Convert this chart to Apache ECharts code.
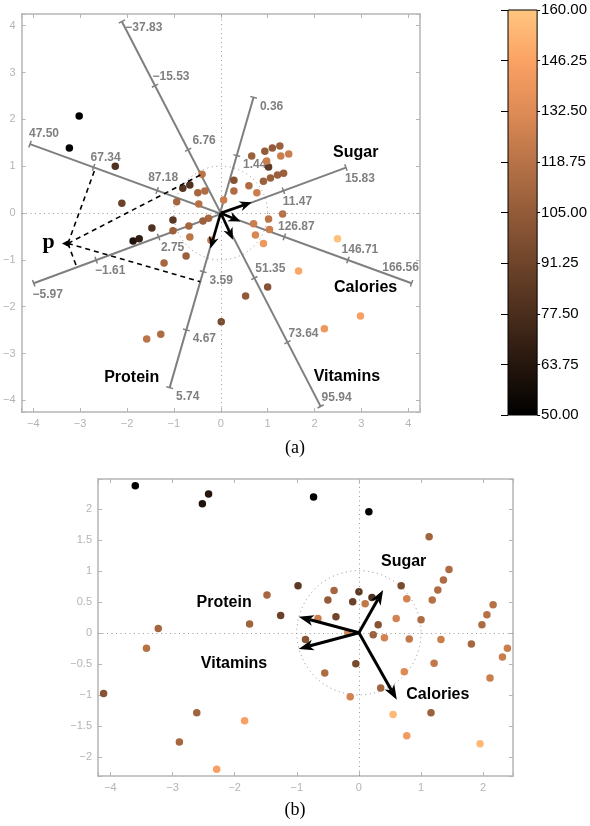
<!DOCTYPE html>
<html><head><meta charset="utf-8">
<script src="https://cdn.jsdelivr.net/npm/echarts@6/dist/echarts.min.js"></script>
<style>html,body{margin:0;padding:0;background:#fff}#c{width:590px;height:826px}</style>
</head><body><div id="c"></div><script>
// ---------- data ----------
// panel (a): [x, y, colour value]
const pointsA = [
 [-3.02, 2.07, 50], [-3.23, 1.39, 52], [-2.25, 1.00, 80], [-2.11, 0.21, 90],
 [-0.81, 0.53, 82], [-0.66, 0.60, 80], [-0.40, 0.83, 120], [-0.49, 0.43, 112],
 [-0.34, 0.47, 116], [-0.94, 0.24, 112], [-0.47, 0.19, 118], [-1.02, -0.15, 84],
 [-1.47, -0.32, 80], [-1.02, -0.38, 108], [-1.87, -0.60, 62], [-1.74, -0.55, 68],
 [-0.68, -0.28, 112], [-0.66, -0.51, 120], [-0.74, -0.92, 108], [-1.21, -1.07, 112],
 [-0.26, -0.11, 112], [-0.38, -0.17, 108], [-0.21, -0.58, 125], [0.06, 0.28, 125],
 [0.28, 0.70, 100], [0.28, 0.47, 115], [0.66, 1.22, 108], [0.60, 0.58, 115],
 [0.77, 0.43, 125], [0.94, 1.32, 105], [1.10, 1.39, 105], [1.26, 1.43, 108],
 [1.28, 1.22, 125], [1.45, 1.26, 125], [1.02, 0.98, 85], [0.98, 1.11, 125],
 [0.91, 0.68, 108], [1.06, 0.75, 108], [1.21, 0.81, 108], [1.34, 0.85, 108],
 [1.32, -0.02, 118], [1.02, -0.13, 120], [0.70, -0.23, 125], [1.04, -0.35, 125],
 [0.74, -0.47, 130], [0.91, -0.65, 140], [2.49, -0.55, 158], [1.66, -1.24, 148],
 [1.00, -1.58, 100], [0.53, -1.77, 105], [0.01, -2.32, 95], [2.98, -2.20, 145],
 [2.21, -2.47, 140], [-1.58, -2.69, 120], [-1.28, -2.59, 115]
];
// panel (b): [x, y, colour value]
const pointsB = [
 [-3.60, 2.37, 50], [-2.52, 2.08, 62], [-2.42, 2.24, 64], [-0.73, 2.19, 52], [0.16, 1.95, 52],
 [-0.98, 0.76, 85], [-1.48, 0.61, 112], [-1.26, 0.28, 90], [-1.76, 0.14, 110], [-3.23, 0.07, 112],
 [-3.42, -0.25, 118], [-0.86, -0.11, 100], [-0.40, 0.68, 112], [-0.50, 0.53, 105], [-0.37, 0.26, 92],
 [-0.10, 0.50, 90], [0.00, 0.66, 85], [1.13, 1.55, 110], [1.45, 1.02, 115], [1.36, 0.85, 115],
 [1.27, 0.69, 115], [1.18, 0.53, 118], [0.68, 0.76, 95], [0.77, 0.55, 128], [0.21, 0.57, 80],
 [0.10, 0.47, 122], [0.60, 0.23, 128], [1.00, 0.21, 115], [0.31, 0.13, 100], [0.23, -0.03, 108],
 [0.41, -0.08, 128], [0.81, -0.10, 122], [1.32, -0.11, 125], [2.16, 0.45, 118], [2.06, 0.29, 118],
 [1.98, 0.13, 115], [1.81, -0.18, 112], [2.39, -0.25, 125], [2.31, -0.39, 125], [2.11, -0.73, 125],
 [1.21, -0.49, 122], [0.73, -0.63, 132], [-0.05, -0.50, 95], [0.35, -0.89, 110], [-0.14, -1.03, 128],
 [0.55, -1.32, 155], [1.16, -1.29, 108], [0.77, -1.66, 142], [1.95, -1.79, 155],
 [-4.11, -0.98, 100], [-2.61, -1.29, 110], [-2.89, -1.76, 112], [-1.84, -1.42, 145], [-2.29, -2.20, 145],
 [-0.55, -0.65, 115], [-0.66, 0.23, 125], [-0.18, 0.00, 130]
];
// colour scale
const colorTicks = [50, 63.75, 77.5, 91.25, 105, 118.75, 132.5, 146.25, 160];
const colorStops = ['#000000', '#25160d', '#4a2d1c', '#6e442a', '#935b39', '#b87347', '#df8b56', '#fba264', '#ffc680'];
// biplot axes of panel (a): end points (data coords) and tick values / labels
const vitEnds = [[-2.11, 4.09], [2.13, -4.13]];
const vitTicks = [-37.83, -15.53, 6.76, 29.05, 51.35, 73.64, 95.94];
const vitLabels = ['\u221237.83', '\u221215.53', '6.76', '', '51.35', '73.64', '95.94'];
const calEnds = [[-4.07, 1.47], [4.07, -1.50]];
const calTicks = [47.50, 67.34, 87.18, 107.03, 126.87, 146.71, 166.56];
const calLabels = ['47.50', '67.34', '87.18', '', '126.87', '146.71', '166.56'];
const sugEnds = [[-3.99, -1.50], [2.67, 0.97]];
const sugTicks = [-5.97, -1.61, 2.75, 7.11, 11.47, 15.83];
const sugLabels = ['\u22125.97', '\u22121.61', '2.75', '', '11.47', '15.83'];
const proEnds = [[0.70, 2.47], [-1.09, -3.73]];
const proTicks = [0.36, 1.44, 2.52, 3.59, 4.67, 5.74];
const proLabels = ['0.36', '1.44', '', '3.59', '4.67', '5.74'];
const pPoint = [-3.26, -0.65];
// loading arrows
const arrowNames = ['Sugar', 'Calories', 'Vitamins', 'Protein'];
const arrowsA = [[0.66, 0.23], [0.42, -0.18], [0.26, -0.57], [-0.22, -0.76]];
const arrowsB = [[0.39, 0.69], [0.61, -1.08], [-0.97, -0.26], [-0.97, 0.26]];

// ---------- layout (annotation placement) ----------
const namePosA = [[2.88, 1.29], [3.09, -1.59], [2.69, -3.49], [-1.90, -3.51]];
const namePosB = [[0.72, 1.15], [1.27, -1.00], [-2.01, -0.50], [-2.17, 0.48]];
const pLabelPos = [-3.67, -0.62];

const GRAY = '#7f7f7f';
const FRAME = '#b5b5b5';
const TICKLBL = '#b4b4b4';
const SANS = '"Liberation Sans", Arial, Helvetica, sans-serif';

const fmtInt = v => {
  const r = Math.round(v);
  if (Math.abs(v - r) > 1e-6) return '';
  if (r === 0) return '0';
  return r < 0 ? '\u2212' + Math.abs(r) : String(r);
};
const fmtHalf = v => {
  const r = Math.round(v * 2) / 2;
  if (Math.abs(v - r) > 1e-6) return '';
  if (Math.abs(r) < 1e-9) return '0';
  return r < 0 ? '\u2212' + Math.abs(r) : String(r);
};

function frameAxis(grid, pos, min, max, split, labels, fmt) {
  return {
    gridIndex: grid, type: 'value', position: pos, min: min, max: max, splitNumber: split,
    axisLine: { show: true, onZero: false, lineStyle: { color: FRAME, width: 1.5 } },
    axisTick: { show: true, inside: true, length: 4, lineStyle: { color: FRAME, width: 1 } },
    axisLabel: { show: labels, color: TICKLBL, fontSize: 11, fontFamily: SANS, margin: 6, formatter: fmt },
    splitLine: { show: false }
  };
}

function biplotAxis(ends, ticks, labels, off, overrides) {
  return {
    type: 'custom', xAxisIndex: 0, yAxisIndex: 0, silent: true, z: 2, clip: false,
    data: [[0, 0]],
    renderItem(params, api) {
      const a = api.coord(ends[0]), b = api.coord(ends[1]);
      const v0 = ticks[0], v1 = ticks[ticks.length - 1];
      const dx = b[0] - a[0], dy = b[1] - a[1];
      const L = Math.hypot(dx, dy), nx = -dy / L, ny = dx / L;
      const ch = [{ type: 'line', shape: { x1: a[0], y1: a[1], x2: b[0], y2: b[1] },
        style: { stroke: GRAY, lineWidth: 2 } }];
      ticks.forEach((t, i) => {
        const f = (t - v0) / (v1 - v0);
        const x = a[0] + dx * f, y = a[1] + dy * f;
        ch.push({ type: 'line', shape: { x1: x - nx * 3.5, y1: y - ny * 3.5, x2: x + nx * 3.5, y2: y + ny * 3.5 },
          style: { stroke: GRAY, lineWidth: 1.5 } });
        if (labels[i]) {
          const o = overrides[i] || off;
          ch.push({ type: 'text', x: x + o[0], y: y + o[1], style: { text: labels[i], fill: '#808080',
            fontSize: 12, fontWeight: 'bold', fontFamily: SANS, align: 'center', verticalAlign: 'middle' } });
        }
      });
      return { type: 'group', children: ch };
    }
  };
}

function arrowHead(tip, from, L, W, N) {
  const dx = tip[0] - from[0], dy = tip[1] - from[1];
  const len = Math.hypot(dx, dy), ux = dx / len, uy = dy / len, nx = -uy, ny = ux;
  return {
    poly: [[tip[0], tip[1]], [tip[0] - ux * L + nx * W, tip[1] - uy * L + ny * W],
           [tip[0] - ux * (L - N), tip[1] - uy * (L - N)], [tip[0] - ux * L - nx * W, tip[1] - uy * L - ny * W]],
    end: [tip[0] - ux * (L - N), tip[1] - uy * (L - N)]
  };
}

function arrowSeries(xi, yi, ends, lw, L, W, N) {
  return {
    type: 'custom', xAxisIndex: xi, yAxisIndex: yi, silent: true, z: 6, clip: false,
    data: ends.map((e, i) => [e[0], e[1], i]),
    renderItem(params, api) {
      const o = api.coord([0, 0]);
      const t = api.coord([api.value(0), api.value(1)]);
      const h = arrowHead(t, o, L, W, N);
      return { type: 'group', children: [
        { type: 'line', shape: { x1: o[0], y1: o[1], x2: h.end[0], y2: h.end[1] }, style: { stroke: '#000', lineWidth: lw } },
        { type: 'polygon', shape: { points: h.poly }, style: { fill: '#000' } }
      ] };
    }
  };
}

function circleSeries(xi, yi) {
  return {
    type: 'custom', xAxisIndex: xi, yAxisIndex: yi, silent: true, z: 1, clip: false,
    data: [[0, 0]],
    renderItem(params, api) {
      const o = api.coord([0, 0]);
      const r = api.size([1, 1])[0];
      return { type: 'circle', shape: { cx: o[0], cy: o[1], r: r },
        style: { fill: 'none', stroke: '#8a8a8a', lineWidth: 1, lineDash: [1, 3.5] } };
    }
  };
}

function nameSeries(xi, yi, pos) {
  return {
    type: 'custom', xAxisIndex: xi, yAxisIndex: yi, silent: true, z: 7, clip: false,
    data: pos.map((p, i) => [p[0], p[1], i]),
    renderItem(params, api) {
      const c = api.coord([api.value(0), api.value(1)]);
      return { type: 'text', x: c[0], y: c[1], style: { text: arrowNames[api.value(2)], fill: '#000',
        fontSize: 16, fontWeight: 'bold', fontFamily: SANS, align: 'center', verticalAlign: 'middle' } };
    }
  };
}

const zeroLines = {
  silent: true, symbol: 'none', label: { show: false },
  lineStyle: { color: '#9a9a9a', type: [1, 3.5], width: 1 },
  data: [{ xAxis: 0 }, { yAxis: 0 }], animation: false
};

const chart = echarts.init(document.getElementById('c'));
chart.setOption({
  animation: false,
  grid: [
    { left: 21, top: 14, width: 399, height: 398 },
    { left: 98, top: 479, width: 415, height: 297 },
    { left: 508, top: 10, width: 30, height: 405 }
  ],
  xAxis: [
    frameAxis(0, 'bottom', -4.25, 4.25, 8, true, fmtInt),
    frameAxis(0, 'top', -4.25, 4.25, 8, false, fmtInt),
    frameAxis(1, 'bottom', -4.2, 2.48, 7, true, fmtInt),
    frameAxis(1, 'top', -4.2, 2.48, 7, false, fmtInt),
    { gridIndex: 2, type: 'category', data: ['c'], show: false }
  ],
  yAxis: [
    frameAxis(0, 'left', -4.25, 4.25, 8, true, fmtInt),
    frameAxis(0, 'right', -4.25, 4.25, 8, false, fmtInt),
    frameAxis(1, 'left', -2.31, 2.48, 10, true, fmtHalf),
    frameAxis(1, 'right', -2.31, 2.48, 10, false, fmtHalf),
    { gridIndex: 2, type: 'value', position: 'right', min: colorTicks[0], max: colorTicks[colorTicks.length - 1],
      interval: colorTicks[1] - colorTicks[0],
      axisLine: { show: false }, splitLine: { show: false },
      axisTick: { show: true, length: 3, lineStyle: { color: '#000' } },
      axisLabel: { color: '#000', fontSize: 15, fontFamily: SANS, margin: 4, formatter: v => v.toFixed(2) } },
    { gridIndex: 2, type: 'value', position: 'left', min: colorTicks[0], max: colorTicks[colorTicks.length - 1],
      interval: colorTicks[1] - colorTicks[0],
      axisLine: { show: false }, splitLine: { show: false },
      axisTick: { show: true, length: 7, lineStyle: { color: '#000' } },
      axisLabel: { show: false } }
  ],
  visualMap: [{ type: 'continuous', show: false, min: colorTicks[0], max: colorTicks[colorTicks.length - 1],
    dimension: 2, seriesIndex: [0, 1], inRange: { color: colorStops } }],
  graphic: [
    { type: 'text', x: 295, y: 448, style: { text: '(a)', fontSize: 18, fontFamily: '"Liberation Serif", "Times New Roman", serif', fill: '#000', align: 'center', verticalAlign: 'middle' } },
    { type: 'text', x: 295, y: 810, style: { text: '(b)', fontSize: 18, fontFamily: '"Liberation Serif", "Times New Roman", serif', fill: '#000', align: 'center', verticalAlign: 'middle' } }
  ],
  series: [
    { type: 'scatter', xAxisIndex: 0, yAxisIndex: 0, data: pointsA, symbolSize: 7.5, z: 3,
      itemStyle: { opacity: 1 }, markLine: zeroLines },
    { type: 'scatter', xAxisIndex: 2, yAxisIndex: 2, data: pointsB, symbolSize: 7.5, z: 3,
      itemStyle: { opacity: 1 }, markLine: zeroLines },
    biplotAxis(vitEnds, vitTicks, vitLabels, [16, -9], { 0: [22, 6] }),
    biplotAxis(calEnds, calTicks, calLabels, [12, -10], { 0: [14, -10], 2: [6, -13], 6: [-11, -16] }),
    biplotAxis(sugEnds, sugTicks, sugLabels, [14, 11], {}),
    biplotAxis(proEnds, proTicks, proLabels, [18, 9], {}),
    // dashed projections of p onto the four biplot axes
    {
      type: 'custom', xAxisIndex: 0, yAxisIndex: 0, silent: true, z: 5, clip: false,
      data: [[pPoint[0], pPoint[1]]],
      renderItem(params, api) {
        const p = api.coord(pPoint);
        const ch = [];
        [vitEnds, calEnds, sugEnds, proEnds].forEach(e => {
          const a = api.coord(e[0]), b = api.coord(e[1]);
          const dx = b[0] - a[0], dy = b[1] - a[1], L2 = dx * dx + dy * dy;
          const t = ((p[0] - a[0]) * dx + (p[1] - a[1]) * dy) / L2;
          const f = [a[0] + dx * t, a[1] + dy * t];
          ch.push({ type: 'line', shape: { x1: p[0], y1: p[1], x2: f[0], y2: f[1] },
            style: { stroke: '#000', lineWidth: 1.6, lineDash: [5, 4] } });
        });
        const h = arrowHead([p[0] - 6, p[1]], [p[0] + 10, p[1]], 8, 4, 2.5);
        ch.push({ type: 'polygon', shape: { points: h.poly }, style: { fill: '#000' } });
        ch.push({ type: 'circle', shape: { cx: p[0], cy: p[1], r: 2.5 }, style: { fill: '#000' } });
        const lp = api.coord(pLabelPos);
        ch.push({ type: 'text', x: lp[0], y: lp[1], style: { text: 'p', fill: '#000', fontSize: 22, fontWeight: 'bold',
          fontFamily: '"Liberation Serif", "Times New Roman", serif', align: 'center', verticalAlign: 'middle' } });
        return { type: 'group', children: ch };
      }
    },
    circleSeries(0, 0),
    circleSeries(2, 2),
    arrowSeries(0, 0, arrowsA, 2.5, 12, 5, 3.5),
    arrowSeries(2, 2, arrowsB, 3, 15, 5.5, 4),
    nameSeries(0, 0, namePosA),
    nameSeries(2, 2, namePosB),
    // colour bar
    {
      type: 'custom', xAxisIndex: 4, yAxisIndex: 4, silent: true, z: 2,
      data: [[0, colorTicks[0]]],
      renderItem(params, api) {
        const cs = params.coordSys;
        const top = api.coord([0, colorTicks[colorTicks.length - 1]])[1];
        const bot = api.coord([0, colorTicks[0]])[1];
        const grad = new echarts.graphic.LinearGradient(0, 1, 0, 0,
          colorStops.map((c, i) => ({ offset: i / (colorStops.length - 1), color: c })));
        return { type: 'rect', shape: { x: cs.x, y: top, width: cs.width, height: bot - top },
          style: { fill: grad, stroke: '#000', lineWidth: 1 } };
      }
    }
  ]
});
</script></body></html>
